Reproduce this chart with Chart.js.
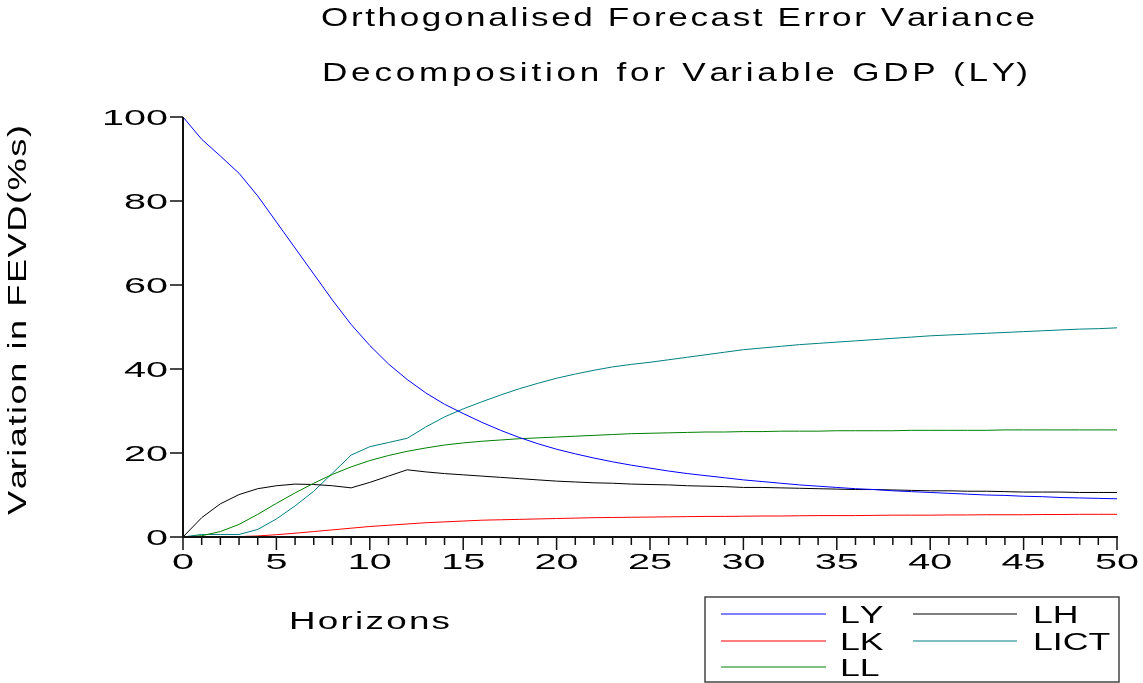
<!DOCTYPE html>
<html><head><meta charset="utf-8">
<script src="https://cdn.jsdelivr.net/npm/chart.js@4.4.1/dist/chart.umd.min.js"></script>
<style>html,body{margin:0;padding:0;background:#fff;overflow:hidden}canvas{display:block}</style>
</head><body>
<canvas id="c" width="1143" height="683"></canvas>
<script>
const titleLines = ["Orthogonalised Forecast Error Variance", "Decomposition for Variable GDP (LY)"];
const xTitle = "Horizons";
const yTitle = "Variation in FEVD(%s)";
const horizons = [0,1,2,3,4,5,6,7,8,9,10,11,12,13,14,15,16,17,18,19,20,21,22,23,24,25,26,27,28,29,30,31,32,33,34,35,36,37,38,39,40,41,42,43,44,45,46,47,48,49,50];
const xTicks = [0,5,10,15,20,25,30,35,40,45,50];
const yTicks = [0,20,40,60,80,100];
const seriesNames = ["LY","LK","LL","LH","LICT"];
const LY = [100,94.7,90.7,86.6,81.2,75.0,68.8,62.6,56.4,50.6,45.6,41.2,37.5,34.3,31.6,29.4,27.3,25.4,23.7,22.2,20.9,19.8,18.8,17.9,17.1,16.4,15.7,15.1,14.6,14.1,13.6,13.2,12.8,12.4,12.1,11.8,11.5,11.3,11.0,10.8,10.6,10.4,10.2,10.0,9.9,9.7,9.6,9.4,9.3,9.2,9.1];
const LK = [0,0,0.05,0.1,0.25,0.55,0.9,1.3,1.7,2.1,2.5,2.8,3.1,3.4,3.6,3.8,4.0,4.1,4.2,4.3,4.4,4.5,4.6,4.65,4.7,4.75,4.8,4.85,4.9,4.9,4.95,5.0,5.0,5.05,5.1,5.1,5.1,5.15,5.2,5.2,5.2,5.25,5.25,5.3,5.3,5.3,5.35,5.35,5.4,5.4,5.4];
const LL = [0,0.3,1.3,3.0,5.4,8.0,10.5,12.8,14.9,16.7,18.2,19.4,20.4,21.2,21.9,22.4,22.8,23.1,23.4,23.6,23.8,24.0,24.2,24.4,24.6,24.7,24.8,24.9,25.0,25.0,25.1,25.1,25.2,25.2,25.2,25.3,25.3,25.3,25.3,25.4,25.4,25.4,25.4,25.4,25.5,25.5,25.5,25.5,25.5,25.5,25.5];
const LH = [0,4.6,7.9,10.1,11.5,12.2,12.6,12.5,12.2,11.7,13.0,14.5,16.0,15.5,15.1,14.8,14.5,14.2,13.9,13.6,13.3,13.1,12.9,12.8,12.6,12.5,12.4,12.2,12.1,12.0,11.8,11.8,11.7,11.6,11.5,11.4,11.3,11.3,11.2,11.1,11.0,11.0,10.9,10.9,10.8,10.7,10.7,10.7,10.6,10.6,10.6];
const LICT = [0,0.6,0.6,0.6,1.8,4.3,7.4,10.9,15.2,19.5,21.5,22.5,23.5,26.2,28.6,30.5,32.2,33.8,35.3,36.6,37.8,38.8,39.7,40.5,41.1,41.6,42.2,42.8,43.4,44.0,44.6,45.0,45.4,45.8,46.1,46.4,46.7,47.0,47.3,47.6,47.9,48.1,48.3,48.5,48.7,48.9,49.1,49.3,49.5,49.6,49.8];
const seriesValues = [LY, LK, LL, LH, LICT];
const seriesColors = ["#0000ff","#ff0000","#008000","#000000","#008080"];

const FONT = '"Liberation Sans", Arial, sans-serif';
function stretchText(ctx, text, x, y, o) {
  ctx.save();
  ctx.font = o.size + 'px ' + FONT;
  ctx.fillStyle = '#000';
  ctx.textBaseline = 'alphabetic';
  ctx.textAlign = 'left';
  const n = text.length;
  const w = ctx.measureText(text).width;
  let ls = o.ls || 0;
  if (o.width) ls = (o.width - w * o.sx) / (n - 1);
  const total = w * o.sx + ls * (n - 1);
  ctx.translate(x, y);
  if (o.rotate) ctx.rotate(o.rotate);
  const start = o.align === 'right' ? -total : (o.align === 'center' ? -total / 2 : 0);
  for (let i = 0; i < n; i++) {
    const px = start + ctx.measureText(text.slice(0, i)).width * o.sx + ls * i;
    ctx.save(); ctx.translate(px, 0); ctx.scale(o.sx, 1); ctx.fillText(text[i], 0, 0); ctx.restore();
  }
  ctx.restore();
}

const decor = {
  id: 'decor',
  afterDatasetsDraw(chart) {
    const ctx = chart.ctx;
    const xs = chart.scales.x, ys = chart.scales.y;
    const x0 = xs.getPixelForValue(0), x1 = xs.getPixelForValue(50);
    const y0 = ys.getPixelForValue(0), y1 = ys.getPixelForValue(100);
    ctx.save();
    ctx.strokeStyle = '#111';
    ctx.lineWidth = 2;
    ctx.beginPath();
    ctx.moveTo(x0, y1); ctx.lineTo(x0, y0 + 1);
    ctx.moveTo(x0, y0); ctx.lineTo(x1 + 1, y0);
    ctx.stroke();
    ctx.lineWidth = 1.5;
    ctx.beginPath();
    yTicks.forEach(v => { const p = ys.getPixelForValue(v); ctx.moveTo(x0 - 13, p); ctx.lineTo(x0, p); });
    horizons.forEach(h => {
      const p = xs.getPixelForValue(h);
      const len = (h % 5 === 0) ? 13 : 8;
      ctx.moveTo(p, y0); ctx.lineTo(p, y0 + len);
    });
    ctx.stroke();
    ctx.restore();
    yTicks.forEach(v => stretchText(ctx, String(v), x0 - 15, ys.getPixelForValue(v) + 8, {size: 22, sx: 1.8, align: 'right'}));
    xTicks.forEach(v => stretchText(ctx, String(v), xs.getPixelForValue(v), 569, {size: 22, sx: 1.8, align: 'center'}));
    stretchText(ctx, titleLines[0], 321, 26, {size: 26, sx: 1.35, width: 714});
    stretchText(ctx, titleLines[1], 322, 81, {size: 26, sx: 1.35, width: 706});
    stretchText(ctx, xTitle, 289, 629, {size: 23, sx: 1.6, width: 161});
    stretchText(ctx, yTitle, 26, 515, {size: 25, sx: 1.45, width: 390, rotate: -Math.PI / 2});
    ctx.save();
    ctx.strokeStyle = '#444';
    ctx.lineWidth = 1.5;
    ctx.strokeRect(705, 597, 414, 85);
    ctx.restore();
    const colLine = [[721, 826], [913, 1017]];
    const colText = [840, 1033];
    const rowY = [614, 641, 667];
    chart.data.datasets.forEach((ds, i) => {
      const c = Math.floor(i / 3), r = i % 3;
      ctx.save();
      ctx.strokeStyle = ds.borderColor;
      ctx.lineWidth = 1.2;
      ctx.beginPath();
      ctx.moveTo(colLine[c][0], rowY[r]); ctx.lineTo(colLine[c][1], rowY[r]);
      ctx.stroke();
      ctx.restore();
      stretchText(ctx, ds.label, colText[c], rowY[r] + 8.5, {size: 23, sx: 1.55});
    });
  }
};

new Chart(document.getElementById('c'), {
  type: 'line',
  data: {
    datasets: seriesNames.map((name, i) => ({
      label: name,
      data: horizons.map((h, j) => ({x: h, y: seriesValues[i][j]})),
      borderColor: seriesColors[i],
      backgroundColor: seriesColors[i],
      borderWidth: 1,
      pointRadius: 0,
      tension: 0,
      fill: false
    }))
  },
  options: {
    responsive: false,
    animation: false,
    devicePixelRatio: 1,
    layout: {padding: {left: 183, right: 26, top: 117, bottom: 146}},
    plugins: {legend: {display: false}, title: {display: false}, tooltip: {enabled: false}},
    scales: {
      x: {type: 'linear', min: 0, max: 50, display: false},
      y: {type: 'linear', min: 0, max: 100, display: false}
    }
  },
  plugins: [decor]
});
</script>
</body></html>
